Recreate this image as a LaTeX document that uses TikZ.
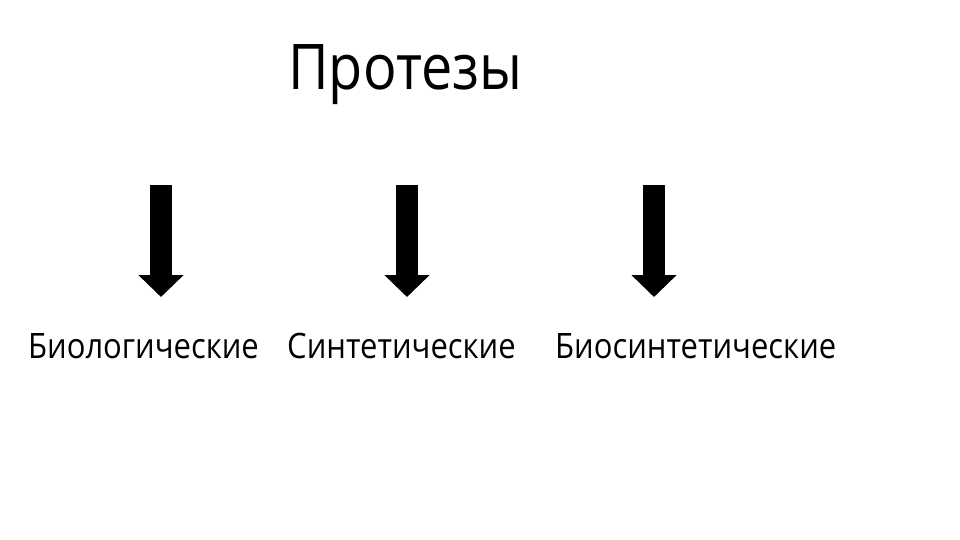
\documentclass[tikz,border=0pt]{standalone}
\usepackage{fontspec}
\setmainfont{Open Sans}[FakeStretch=0.885]
\usetikzlibrary{arrows.meta}

\begin{document}
\begin{tikzpicture}[
    x=1pt, y=-1pt,
    title/.style={anchor=base west, inner sep=0pt, font=\fontsize{63}{70}\selectfont},
    kind/.style={anchor=base west, inner sep=0pt, font=\fontsize{35}{40}\selectfont},
    bigarrow/.style={line width=22pt, -{Triangle[length=22pt, width=44pt]}}
]
\useasboundingbox (0,0) rectangle (960,540);

% ======================
% Title
% ======================
\node[title] (protezy) at (288,90) {Протезы};

% ======================
% Kinds
% ======================
\node[kind] (bio) at (28,358) {Биологические};
\node[kind] (sint) at (287,358) {Синтетические};
\node[kind] (biosint) at (555,358) {Биосинтетические};

% ======================
% Arrows
% ======================
\coordinate (bio_top) at (161,185);
\coordinate (bio_tip) at (161,297);
\coordinate (sint_top) at (407,185);
\coordinate (sint_tip) at (407,297);
\coordinate (biosint_top) at (654,185);
\coordinate (biosint_tip) at (654,297);

\draw[bigarrow] (bio_top) -- (bio_tip);
\draw[bigarrow] (sint_top) -- (sint_tip);
\draw[bigarrow] (biosint_top) -- (biosint_tip);

\end{tikzpicture}
\end{document}
